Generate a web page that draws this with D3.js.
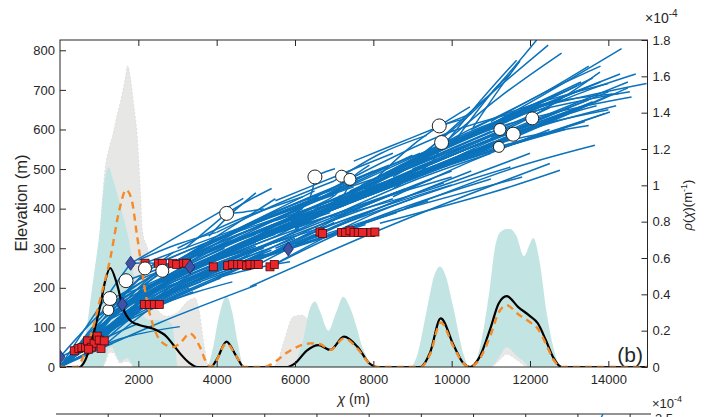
<!DOCTYPE html>
<html><head><meta charset="utf-8">
<script src="https://cdn.jsdelivr.net/npm/d3@7"></script>
<style>
body{margin:0;background:#fff;}
svg text{font-family:"Liberation Sans",Arial,sans-serif;fill:#262626;}
</style></head><body>
<svg id="chart" width="707" height="417"></svg>
<script>
// ---------- DATA ----------
const xTicks = [2000,4000,6000,8000,10000,12000,14000];
const elevTicks = [0,100,200,300,400,500,600,700,800];
const rhoTicks = [0,0.2,0.4,0.6,0.8,1,1.2,1.4,1.6,1.8];

// density bands: [chi, lower, upper] (x1e-4 m^-1)
const greyBand = [[0,0,0],[480,0,0],[620,0,0.1],[766,0,0.3],[893,0,0.5],[1021,0,0.75],[1149,0.02,1.085],[1259,0.08,1.21],[1361,0.08,1.29],[1450,0.05,1.38],[1532,0.02,1.45],[1659,0.03,1.58],[1728,0.03,1.658],[1805,0.02,1.58],[1889,0,1.43],[1973,0,1.27],[2024,0,1.085],[2068,0,0.9],[2100,0,0.755],[2254,0,0.63],[2382,0,0.41],[2509,0,0.31],[2723,0,0.28],[3000,0,0.3],[3250,0,0.36],[3450,0,0.38],[3560,0,0.3],[3680,0,0.12],[3800,0,0],[5400,0,0],[5531,0,0.02],[5701,0,0.13],[5956,0,0.277],[6169,0,0.286],[6350,0,0.25],[6500,0,0],[10900,0,0],[11000,0,0.3],[11232,0.04,0.6],[11400,0.07,0.7],[11658,0.04,0.6],[11845,0.01,0.5],[12000,0,0.3],[12200,0,0],[15000,0,0]];
const cyanBand = [[0,0,0],[510,0,0],[640,0,0.15],[766,0,0.35],[893,0,0.55],[1021,0,0.76],[1100,0,0.95],[1160,0.04,1.05],[1250,0.1,1.10],[1330,0.11,1.05],[1400,0.08,1.0],[1550,0.03,0.88],[1702,0.05,0.755],[1800,0.03,0.65],[1872,0,0.52],[2042,0,0.37],[2127,0,0.28],[2300,0,0.26],[2600,0,0.26],[2850,0,0.24],[2950,0,0.1],[3000,0,0],[3750,0,0],[3900,0,0.1],[4050,0,0.27],[4250,0,0.39],[4400,0,0.3],[4550,0,0.12],[4700,0,0],[5950,0,0],[6100,0,0.08],[6212,0,0.15],[6350,0,0.3],[6509,0,0.36],[6650,0,0.3],[6850,0,0.2],[7050,0,0.3],[7232,0,0.387],[7400,0,0.33],[7573,0,0.22],[7700,0,0.12],[7829,0,0.057],[7950,0,0],[8950,0,0],[9106,0,0.057],[9361,0,0.31],[9550,0,0.5],[9700,0,0.553],[9850,0,0.5],[10040,0,0.33],[10296,0,0.075],[10468,0,0],[10550,0,0],[10723,0,0.11],[10977,0,0.44],[11100,0.02,0.65],[11232,0.06,0.74],[11400,0.11,0.76],[11487,0.1,0.76],[11658,0.06,0.72],[11845,0.03,0.61],[12000,0,0.68],[12083,0,0.71],[12253,0,0.57],[12424,0,0.3],[12594,0,0.11],[12722,0,0.02],[12800,0,0],[15000,0,0]];

// density curves [chi, value]
const blackCurve = [[0,0],[500,0],[650,0.04],[766,0.11],[900,0.22],[1021,0.33],[1150,0.47],[1280,0.545],[1450,0.46],[1617,0.32],[1800,0.255],[2042,0.23],[2383,0.21],[2723,0.167],[2900,0.12],[3063,0.075],[3318,0.02],[3500,0],[3850,0],[4000,0.04],[4250,0.14],[4500,0.06],[4700,0],[5800,0],[6000,0.02],[6300,0.09],[6600,0.12],[6900,0.094],[7250,0.167],[7600,0.11],[7900,0.02],[8100,0],[9200,0],[9450,0.08],[9720,0.268],[10050,0.12],[10300,0.02],[10470,0],[10700,0.05],[11000,0.22],[11200,0.35],[11404,0.39],[11700,0.33],[12000,0.28],[12200,0.24],[12400,0.15],[12600,0.05],[12808,0],[15000,0]];
const orangeCurve = [[0,0],[430,0],[560,0.04],[682,0.11],[850,0.22],[1021,0.37],[1276,0.59],[1532,0.88],[1685,0.975],[1830,0.92],[1958,0.737],[2213,0.37],[2425,0.2],[2637,0.13],[2892,0.11],[3100,0.14],[3318,0.185],[3574,0.11],[3745,0.02],[3850,0],[3950,0.02],[4250,0.13],[4500,0.06],[4700,0],[5200,0],[5500,0.03],[5800,0.08],[6100,0.115],[6400,0.13],[6650,0.125],[6900,0.094],[7250,0.158],[7600,0.1],[7900,0.02],[8100,0],[9200,0],[9450,0.07],[9720,0.245],[10050,0.11],[10300,0.02],[10470,0],[10700,0.04],[11000,0.18],[11200,0.3],[11404,0.34],[11700,0.29],[12040,0.24],[12200,0.21],[12400,0.13],[12600,0.04],[12808,0],[15000,0]];

// chi-elevation channel profiles [chi, elevation]
const channels = [
 [[0,0],[1500,70],[3060,102]],[[0,0],[700,35],[1350,60]],[[0,0],[900,75],[1900,140]],[[0,2],[1000,100],[2100,175]],
 [[20,0],[1100,120],[2300,200]],[[0,0],[1000,150],[1804,262]],[[0,3],[800,80],[1591,158]],[[0,0],[1100,110],[2153,158]],
 [[50,0],[1400,160],[2600,225]],[[0,0],[1400,135],[2900,235]],[[30,0],[1300,105],[3300,200]],[[0,0],[1500,120],[3600,215]],
 [[0,0],[1800,125],[4100,225]],[[100,5],[2000,150],[4600,250]],[[0,0],[2500,110],[5021,207]],[[0,0],[600,30],[1200,55]],
 [[0,0],[1000,65],[2000,110]],[[0,25],[700,60],[1500,120]],[[0,25],[1200,150],[2500,240]],
 [[365,40],[1600,150],[3000,230]],[[510,47],[1800,170],[3600,265]],[[595,51],[2000,185],[4000,285]],[[682,64],[2200,200],[4200,300]],
 [[766,51],[2500,185],[4700,285]],[[893,60],[2600,205],[5000,305]],[[952,78],[2300,225],[4400,320]],[[1021,68],[3000,235],[5500,335]],
 [[1149,68],[3200,225],[5800,325]],[[1047,47],[3000,195],[5200,285]],[[800,50],[2800,195],[6000,335]],[[480,45],[2300,165],[5400,295]],
 [[700,66],[1500,170],[2400,260]],[[950,78],[1800,200],[2900,290]],[[1130,66],[2200,210],[3600,305]],[[600,51],[1500,140],[2700,215]],
 [[2153,158],[3500,225],[5200,295]],[[2280,158],[4000,245],[6000,325]],[[2408,158],[4200,235],[6500,335]],[[2535,158],[4500,245],[7000,365]],
 [[1591,158],[3000,235],[5000,315]],[[2535,158],[3500,190],[4400,215]],
 [[1804,262],[2500,262],[3318,253]],[[2153,262],[4000,330],[6500,420]],[[2510,262],[4500,345],[7000,435]],[[2877,262],[4800,355],[7500,455]],
 [[3148,262],[5000,365],[8000,475]],[[2612,243],[4300,325],[6800,415]],[[2170,249],[3800,315],[5800,385]],[[1685,218],[3000,265],[5000,335]],
 [[1276,173],[2500,215],[4200,285]],[[1234,144],[2500,195],[4500,265]],[[1804,262],[3000,330],[4680,426]],[[2000,270],[3000,310],[4000,340]],
 [[3234,262],[4500,330],[6200,400]],
 [[3914,253],[6000,335],[8500,425]],[[4280,256],[6500,365],[9000,455]],[[4536,259],[7000,375],[9500,475]],[[4850,259],[7500,395],[10000,495]],
 [[5063,259],[7000,355],[9800,465]],[[5361,253],[8000,375],[11000,475]],[[5471,259],[8200,395],[11500,505]],[[4765,256],[6800,345],[9000,425]],
 [[3318,253],[5500,315],[8000,395]],[[5829,298],[8000,395],[10500,495]],[[4408,259],[5800,300],[7200,340]],[[4850,203],[8500,360],[12508,514]],
 [[4000,225],[5000,250],[5871,266]],
 [[4255,388],[4800,420],[5404,451]],[[3200,300],[3800,350],[4255,388]],[[4255,388],[4600,390],[5200,400]],[[5000,330],[6297,413],[6509,480]],
 [[6509,480],[6750,492],[7020,501]],[[5500,370],[7063,438],[7190,482]],[[7403,474],[7600,490],[7900,510]],[[6000,380],[7200,430],[7403,474]],
 [[8000,470],[9000,560],[9683,609]],[[9683,609],[10000,618],[10382,628]],[[9683,609],[10100,635],[10466,657]],[[8500,450],[9530,522],[9743,567]],
 [[3800,330],[4400,390],[5000,440]],
 [[6000,400],[10000,595],[14976,716]],[[7000,420],[11000,615],[14550,695]],[[7500,440],[11000,600],[14593,682]],[[8000,460],[11500,640],[14338,804]],
 [[8500,480],[12000,655],[14253,690]],[[7800,450],[11000,625],[13998,716]],[[9000,500],[12000,630],[13785,745]],[[8500,470],[11500,560],[14040,644]],
 [[8168,363],[11000,440],[12764,497]],[[8800,400],[11500,500],[13657,560]],[[9000,520],[10600,650],[12170,826]],[[9200,530],[11000,690],[12464,813]],
 [[9500,540],[11200,680],[12806,793]],[[10550,606],[11200,700],[11743,773]],[[9800,560],[10800,680],[11658,775]],[[6892,379],[9000,470],[11000,540]],
 [[7000,470],[8200,540],[9360,585]],[[10000,560],[11148,707],[11500,740]],[[11000,580],[13000,660],[14500,720]],
 [[5500,330],[9000,495],[13000,645]],[[6000,350],[9500,515],[13500,665]],[[6500,380],[10000,535],[14000,695]],[[3500,280],[7000,425],[11000,595]],
 [[4000,300],[7500,445],[12000,635]],[[4500,320],[8000,455],[12500,655]],[[3000,270],[6000,395],[10000,575]],[[2500,250],[5500,375],[9000,535]],
 [[2000,220],[4500,325],[8000,495]],[[1500,180],[3500,295],[6500,445]],[[1000,130],[3000,265],[5500,425]],[[3800,290],[6000,375],[8500,475]],
 [[4200,310],[6500,395],[9500,515]],[[5000,340],[7500,435],[10500,555]],[[5500,360],[8000,465],[11000,585]],[[6200,380],[8500,485],[11500,605]],
 [[7000,410],[9500,515],[12500,635]],[[7500,430],[10000,535],[13000,655]],[[8000,450],[10500,555],[13500,675]],[[9000,480],[11000,560],[13500,610]],
 [[9500,500],[11500,590],[14000,650]],[[7000,380],[9500,450],[12000,540]],[[6000,350],[8000,420],[10000,480]],[[10000,520],[12000,600],[14200,660]],
 [[8500,430],[10500,520],[12500,600]],[[2000,190],[3500,250],[5500,330]],[[1500,160],[3000,240],[4500,300]],[[3000,240],[5000,320],[7500,400]],
 [[4500,280],[6500,360],[8800,450]],[[5500,300],[7500,380],[10000,460]],[[1200,120],[2500,200],[4000,270]],[[2200,200],[3500,270],[5500,360]],
 [[3000,300],[4500,370],[6200,430]],[[4000,340],[5500,410],[7000,470]],[[5500,420],[7000,480],[8500,540]],[[7500,520],[9000,580],[10500,640]],
 [[11000,620],[12500,700],[13800,760]],[[10500,590],[12000,660],[13000,700]],[[12000,600],[13000,640],[13700,660]],[[12000,640],[13500,700],[14700,740]],
 [[0,0],[1200,90],[2600,180]],[[0,0],[1600,110],[3400,190]],[[200,10],[1800,140],[3800,240]],[[300,20],[2000,160],[4300,260]],
 [[400,30],[2200,175],[4800,280]],[[600,45],[2400,190],[5200,300]],[[900,65],[2600,200],[5600,320]],[[1100,80],[2800,215],[6100,350]],
 [[1300,100],[3000,230],[6400,370]],[[1500,120],[3300,250],[6900,390]],[[1700,140],[3600,265],[7300,410]],[[1900,160],[3900,280],[7700,430]],
 [[2100,175],[4200,295],[8100,450]],[[2300,190],[4600,310],[8600,470]],[[2600,205],[5000,325],[9100,490]],[[2900,220],[5400,340],[9600,510]],
 [[3200,235],[5800,355],[10100,530]],[[3500,250],[6200,370],[10600,550]],[[3800,265],[6600,385],[11100,570]],[[4100,280],[7000,400],[11600,590]],
 [[4400,295],[7400,415],[12100,610]],[[4700,310],[7800,430],[12600,630]],[[5000,325],[8200,445],[13100,650]],[[5300,340],[8600,460],[13600,670]],
 [[5600,355],[9000,475],[14100,690]],[[5900,370],[9400,490],[14500,705]],[[6200,385],[9800,505],[13900,640]],[[6500,400],[10200,520],[13400,620]],
 [[6800,415],[10600,535],[12900,600]],[[7100,430],[11000,550],[12400,590]],[[7400,445],[10500,580],[12800,680]],[[7700,460],[10800,595],[13300,700]],
 [[8000,475],[11100,610],[13800,720]],[[8300,490],[11400,625],[14300,740]],[[8600,505],[11700,640],[13600,730]],[[8900,520],[12000,655],[13200,710]],
 [[3000,200],[5000,270],[7800,360]],[[3600,230],[5800,300],[8600,390]],[[4200,250],[6500,320],[9400,420]],[[6000,310],[8500,390],[11800,480]],
 [[1000,90],[2200,160],[3800,230]],[[1600,130],[2800,190],[4600,255]],[[2400,210],[4000,300],[6000,380]],[[2800,260],[4400,340],[6600,430]],
 [[3400,290],[5200,380],[7600,470]],[[4600,350],[6400,430],[8400,510]],[[5200,380],[7200,460],[9200,540]],[[9000,530],[11000,610],[12600,670]],
 [[10000,570],[11800,650],[13300,720]],[[10500,600],[12300,690],[13500,760]]
];

// knickpoints (red squares) [chi, elevation]
const knickpoints = [[365,41],[480,47],[560,49],[650,50],[700,66],[800,50],[870,60],[950,78],[1000,68],[1047,47],[1130,66],[730,45],
 [2153,158],[2280,158],[2408,158],[2535,158],
 [2170,262],[2510,262],[2612,262],[2877,262],[2979,259],[3148,262],[3234,262],
 [3914,253],[4280,256],[4408,259],[4536,259],[4638,259],[4765,256],[4850,259],[4978,259],[5063,259],[5361,253],[5471,259],
 [6637,341],[6705,337],[7190,340],[7292,340],[7403,344],[7505,340],[7615,340],[7726,340],[7939,340],[8041,341]];
// open circles [chi, elevation, size]
const circles = [[1234,144,5.5],[1276,173,7],[1685,218,7],[2170,249,6.5],[2612,243,6.5],[4255,388,7],[6509,480,7],[7190,482,6],[7403,474,6],
 [9683,609,7],[9743,567,7],[11232,600,6],[11206,556,5.5],[11572,588,7],[12057,628,6.5]];
// diamonds [chi, elevation]
const diamonds = [[0,25],[1804,262],[1591,158],[3318,253],[5829,298]];

// second (cut-off) panel
const panel2Ticks = [1000,2000,3000,4000,5000,6000,7000,8000,9000,10000,11000];
const panel2Line = [[10380,3.38],[10480,3.5]];

// ---------- DRAW ----------
const svg = d3.select("#chart");
const L=60, R=647.5, T=40, B=367;
const x = d3.scaleLinear([0,15000],[L,R]);
const yL = d3.scaleLinear([0,826],[B,T]);
const yR = d3.scaleLinear([0,1.8],[B,T]);

svg.append("defs").append("clipPath").attr("id","clip")
  .append("rect").attr("x",L).attr("y",T).attr("width",R-L).attr("height",B-T);
const plot = svg.append("g").attr("clip-path","url(#clip)");

const band = d3.area().x(d=>x(d[0])).y0(d=>yR(d[1])).y1(d=>yR(d[2])).curve(d3.curveMonotoneX);
plot.append("path").datum(greyBand).attr("d",band).attr("fill","#e7e7e5").attr("stroke","#cfcfcf").attr("stroke-width",0.5).attr("stroke-dasharray","2,2");
plot.append("path").datum(cyanBand).attr("d",band).attr("fill","#c2e5e3");

const chLine = d3.line().x(d=>x(d[0])).y(d=>yL(d[1])).curve(d3.curveCatmullRom);
plot.append("g").selectAll("path").data(channels).join("path")
  .attr("d",chLine).attr("fill","none").attr("stroke","#0b72bb").attr("stroke-width",1.5);

const dLine = d3.line().x(d=>x(d[0])).y(d=>yR(d[1])).curve(d3.curveMonotoneX);
plot.append("path").datum(blackCurve).attr("d",dLine).attr("fill","none").attr("stroke","#000").attr("stroke-width",2.2);
plot.append("path").datum(orangeCurve).attr("d",dLine).attr("fill","none").attr("stroke","#f58a26").attr("stroke-width",2.4).attr("stroke-dasharray","7,5");

plot.append("g").selectAll("rect").data(knickpoints).join("rect")
  .attr("x",d=>x(d[0])-4).attr("y",d=>yL(d[1])-4).attr("width",8).attr("height",8)
  .attr("fill","#e8262b").attr("stroke","#4a0a0a").attr("stroke-width",0.8);
plot.append("g").selectAll("path").data(diamonds).join("path")
  .attr("d",d=>{const cx=x(d[0]),cy=yL(d[1]);return `M${cx},${cy-7}L${cx+5},${cy}L${cx},${cy+7}L${cx-5},${cy}Z`;})
  .attr("fill","#4052a4").attr("stroke","#1c2460").attr("stroke-width",0.8);
plot.append("g").selectAll("circle").data(circles).join("circle")
  .attr("cx",d=>x(d[0])).attr("cy",d=>yL(d[1])).attr("r",d=>d[2])
  .attr("fill","#fff").attr("stroke","#222").attr("stroke-width",1);

// axes
const axCol="#262626";
function style(g){g.select(".domain").remove();g.selectAll("line").attr("stroke",axCol);g.selectAll("text").attr("font-size",13).attr("fill",axCol).style("font-family","'Liberation Sans',Arial,sans-serif");}
svg.append("g").attr("transform",`translate(${L},0)`).call(d3.axisLeft(yL).tickValues(elevTicks).tickSize(-6).tickPadding(5)).call(style);
svg.append("g").attr("transform",`translate(${R},0)`).call(d3.axisRight(yR).tickValues(rhoTicks).tickFormat(d=>String(d)).tickSize(-6).tickPadding(5)).call(style);
svg.append("g").attr("transform",`translate(0,${B})`).call(d3.axisBottom(x).tickValues(xTicks).tickFormat(d=>String(d)).tickSize(-6).tickPadding(8)).call(style);
svg.append("g").attr("transform",`translate(0,${T})`).call(d3.axisTop(x).tickValues(xTicks).tickSize(-6).tickFormat("")).call(style);
svg.append("rect").attr("x",L).attr("y",T).attr("width",R-L).attr("height",B-T).attr("fill","none").attr("stroke",axCol).attr("stroke-width",1);

// labels
svg.append("text").attr("transform",`translate(27,203) rotate(-90)`).attr("text-anchor","middle").attr("font-size",16.5).text("Elevation (m)");
const xl = svg.append("text").attr("x",(L+R)/2).attr("y",404).attr("text-anchor","middle").attr("font-size",14);
xl.append("tspan").attr("font-style","italic").text("χ");
xl.append("tspan").text(" (m)");
const rl = svg.append("text").attr("transform",`translate(692,205) rotate(-90)`).attr("text-anchor","middle").attr("font-size",13);
rl.append("tspan").attr("font-style","italic").text("ρ");
rl.append("tspan").text("(");
rl.append("tspan").attr("font-style","italic").text("χ");
rl.append("tspan").text(")(m");
rl.append("tspan").attr("font-size",9).attr("dy",-5).text("-1");
rl.append("tspan").attr("dy",5).text(")");
const ex = svg.append("text").attr("x",645).attr("y",23).attr("font-size",14);
ex.append("tspan").text("×10");
ex.append("tspan").attr("font-size",10).attr("dy",-6).text("-4");
svg.append("text").attr("x",643).attr("y",362).attr("text-anchor","end").attr("font-size",21).text("(b)");

// second panel (top edge only visible)
const x2 = d3.scaleLinear([0,11400],[56,651]);
const y2 = d3.scaleLinear([0,3.5],[714,414]);
svg.append("line").attr("x1",56).attr("x2",651).attr("y1",414).attr("y2",414).attr("stroke",axCol);
svg.append("g").selectAll("line").data(panel2Ticks).join("line")
  .attr("x1",d=>x2(d)).attr("x2",d=>x2(d)).attr("y1",414).attr("y2",419).attr("stroke",axCol);
svg.append("path").datum(panel2Line).attr("d",d3.line().x(d=>x2(d[0])).y(d=>y2(d[1]))).attr("stroke","#0b72bb").attr("stroke-width",1.4).attr("fill","none");
const ex2 = svg.append("text").attr("x",652).attr("y",408).attr("font-size",13);
ex2.append("tspan").text("×10");
ex2.append("tspan").attr("font-size",9).attr("dy",-6).text("-4");
svg.append("text").attr("x",655).attr("y",423).attr("font-size",13).text("3.5");
</script></body></html>
